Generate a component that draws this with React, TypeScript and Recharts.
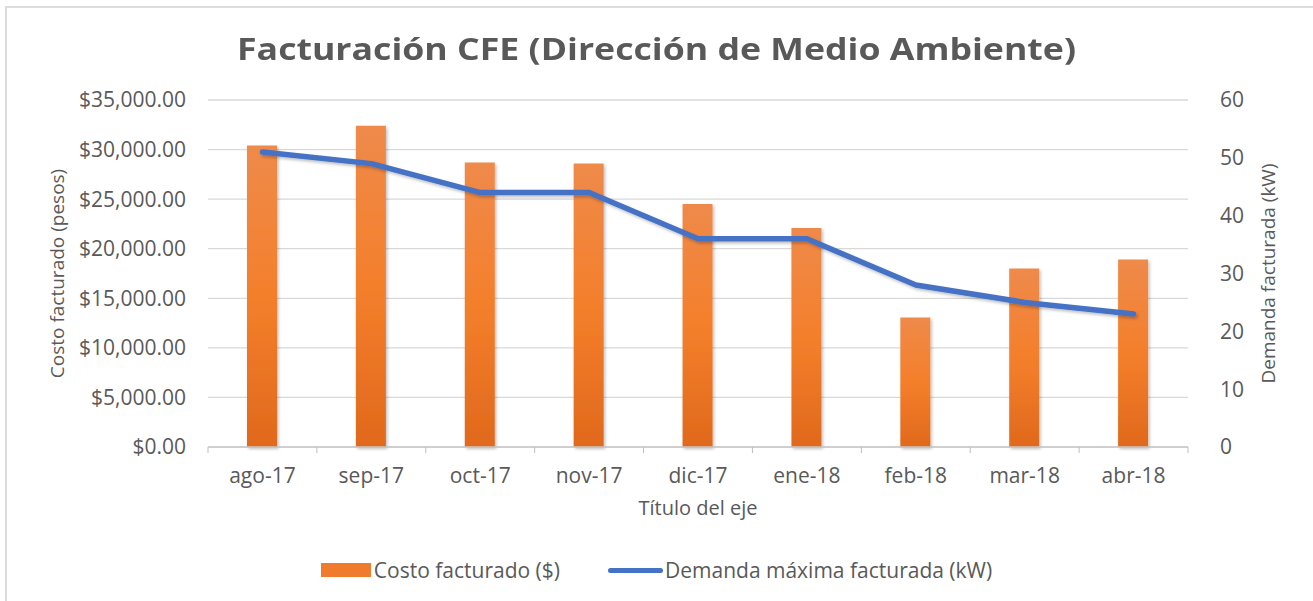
import React from "react"
import {
  ComposedChart,
  Bar,
  Line,
  XAxis,
  YAxis,
  CartesianGrid,
  Legend,
} from "recharts"

// values
const months = ["ago-17", "sep-17", "oct-17", "nov-17", "dic-17", "ene-18", "feb-18", "mar-18", "abr-18"]
const costo = [30400, 32400, 28700, 28600, 24500, 22100, 13050, 18000, 18900]
const demanda = [51, 49, 44, 44, 36, 36, 28, 25, 23]
const costoTicks = [0, 5000, 10000, 15000, 20000, 25000, 30000, 35000]
const demandaTicks = [0, 10, 20, 30, 40, 50, 60]

const data = months.map((m, i) => ({ mes: m, costo: costo[i], demanda: demanda[i] }))

const FONT = "'Open Sans', sans-serif"
const TEXT = "#595959"
const GRID = "#d9d9d9"

const money = (v: number) =>
  "$" + v.toLocaleString("en-US", { minimumFractionDigits: 2, maximumFractionDigits: 2 })

function CategoryTick(props: any) {
  const { x, y, payload, index, width } = props
  const band = (width || 980) / months.length
  const left = x - band / 2
  return (
    <g>
      <line x1={left} x2={left} y1={y} y2={y + 6} stroke="#bfbfbf" />
      {index === months.length - 1 && (
        <line x1={x + band / 2} x2={x + band / 2} y1={y} y2={y + 6} stroke="#bfbfbf" />
      )}
      <text x={x} y={y + 28} textAnchor="middle" dominantBaseline="central" fill={TEXT} fontSize={21} fontFamily={FONT}>
        {payload.value}
      </text>
    </g>
  )
}

function LegendContent() {
  return (
    <div style={{ display: "flex", justifyContent: "center", alignItems: "center", fontFamily: FONT, fontSize: 21, color: TEXT }}>
      <div style={{ display: "flex", alignItems: "center", marginRight: 48 }}>
        <span style={{ display: "inline-block", width: 50, height: 14, background: "#f07b2c", marginRight: 3 }} />
        <span>Costo facturado ($)</span>
      </div>
      <div style={{ display: "flex", alignItems: "center" }}>
        <span style={{ display: "inline-block", width: 55, height: 5, borderRadius: 3, background: "#4472c4", marginRight: 2 }} />
        <span>Demanda máxima facturada (kW)</span>
      </div>
    </div>
  )
}

const axisTitle = (text: string, dx: number) => (props: any) => {
  const vb = props.viewBox || {}
  const cx = vb.x + dx
  const cy = vb.y + vb.height / 2
  return (
    <text
      x={cx}
      y={cy}
      transform={`rotate(-90 ${cx} ${cy})`}
      textAnchor="middle"
      dominantBaseline="central"
      fill={TEXT}
      fontSize={19}
      fontFamily={FONT}
    >
      {text}
    </text>
  )
}

export default function App() {
  return (
    <div style={{ position: "absolute", left: 0, top: 0, width: 1313, height: 601, overflow: "hidden", background: "#fff" }}>
      <div
        style={{
          position: "absolute",
          left: 5,
          top: 6,
          width: 1330,
          height: 620,
          borderTop: "2px solid #dcdcdc",
          borderLeft: "2px solid #dcdcdc",
        }}
      />
      <div
        style={{
          position: "absolute",
          top: 27,
          left: 0,
          width: 1313,
          textAlign: "center",
          fontFamily: FONT,
          fontWeight: 700,
          fontSize: 31,
          color: TEXT,
          transform: "scaleX(1.15)",
          transformOrigin: "center",
        }}
      >
        Facturación CFE (Dirección de Medio Ambiente)
      </div>
      <div style={{ position: "absolute", left: 0, top: 0 }}>
        <ComposedChart width={1313} height={601} data={data} margin={{ top: 100, right: 0, bottom: 0, left: 0 }}>
          <defs>
            <linearGradient id="barFill" x1="0" y1="0" x2="0" y2="1">
              <stop offset="0%" stopColor="#ef8a4a" />
              <stop offset="50%" stopColor="#f47f2b" />
              <stop offset="100%" stopColor="#e0691c" />
            </linearGradient>
            <filter id="shade" x="-20%" y="-20%" width="140%" height="140%">
              <feDropShadow dx="1.5" dy="2" stdDeviation="1.5" floodColor="#000" floodOpacity="0.25" />
            </filter>
          </defs>
          <CartesianGrid yAxisId="left" vertical={false} stroke={GRID} strokeWidth={1.3} />
          <XAxis
            dataKey="mes"
            height={154}
            tickSize={0}
            tickMargin={0}
            interval={0}
            axisLine={{ stroke: "#c8c8c8", strokeWidth: 1.3 }}
            tick={<CategoryTick />}
            label={{
              content: (p: any) => (
                <text
                  x={p.viewBox.x + p.viewBox.width / 2}
                  y={p.viewBox.y + 60}
                  textAnchor="middle"
                  dominantBaseline="central"
                  fill={TEXT}
                  fontSize={20}
                  fontFamily={FONT}
                >
                  Título del eje
                </text>
              ),
            }}
          />
          <YAxis
            yAxisId="left"
            width={208}
            domain={[0, 35000]}
            ticks={costoTicks}
            tickFormatter={money}
            axisLine={false}
            tickLine={false}
            tickSize={0}
            tickMargin={22}
            tick={{ fill: TEXT, fontSize: 21, fontFamily: FONT }}
            label={{ content: axisTitle("Costo facturado (pesos)", 57) }}
          />
          <YAxis
            yAxisId="right"
            orientation="right"
            width={125}
            domain={[0, 60]}
            ticks={demandaTicks}
            axisLine={false}
            tickLine={false}
            tickSize={0}
            tickMargin={32}
            tick={{ fill: TEXT, fontSize: 21, fontFamily: FONT }}
            label={{ content: axisTitle("Demanda facturada (kW)", 80) }}
          />
          <Legend
            layout="horizontal"
            verticalAlign="middle"
            align="center"
            content={<LegendContent />}
            wrapperStyle={{ position: "absolute", top: 556, left: 0, width: 1313 }}
          />
          <Bar
            yAxisId="left"
            dataKey="costo"
            name="Costo facturado ($)"
            barSize={30}
            fill="url(#barFill)"
            filter="url(#shade)"
            isAnimationActive={false}
          />
          <Line
            yAxisId="right"
            dataKey="demanda"
            name="Demanda máxima facturada (kW)"
            stroke="#4472c4"
            strokeWidth={5.5}
            strokeLinejoin="round"
            strokeLinecap="round"
            dot={false}
            activeDot={false}
            type="linear"
            filter="url(#shade)"
            isAnimationActive={false}
          />
        </ComposedChart>
      </div>
    </div>
  )
}
